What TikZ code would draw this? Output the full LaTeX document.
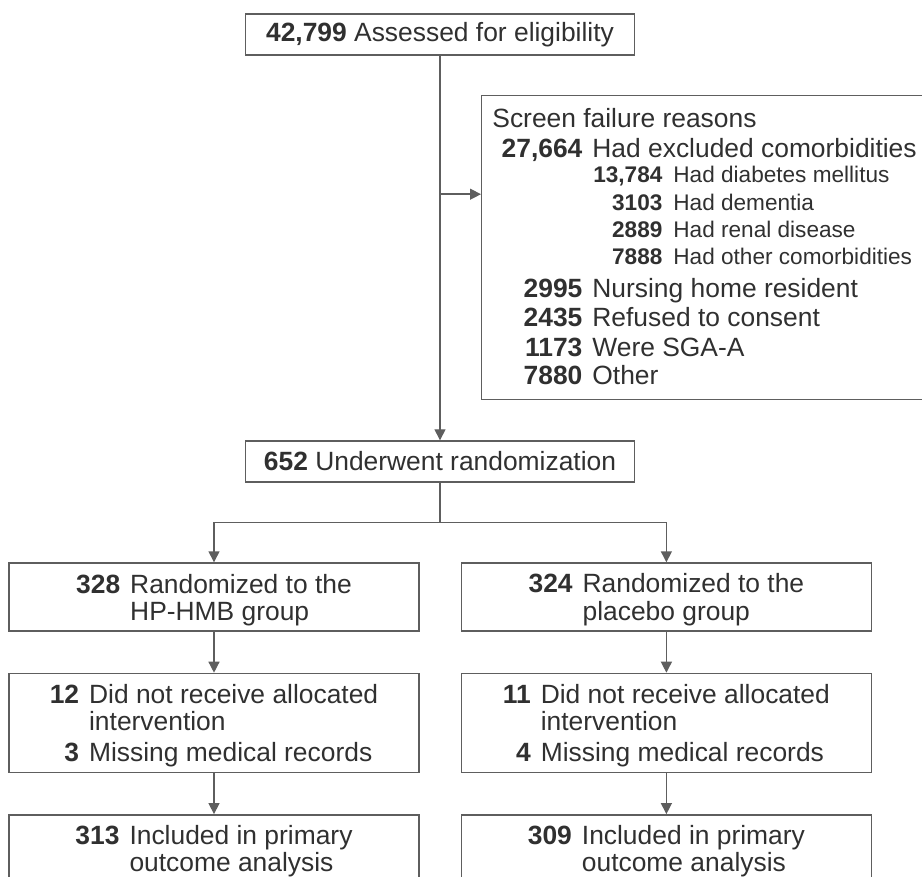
\documentclass[tikz,border=0pt]{standalone}
\usepackage{fontspec}
\setmainfont{Liberation Sans}
\usetikzlibrary{arrows.meta,positioning,calc}
\definecolor{linegray}{HTML}{5E5E5E}
\definecolor{textgray}{HTML}{303030}
\newcommand{\mainrow}[2]{\makebox[50.5pt][r]{\textbf{#1}}\hspace{5pt}#2}
\newcommand{\subrow}[2]{\makebox[90.5pt][r]{\textbf{#1}}\hspace{5.5pt}#2}
\newcommand{\armtab}[1]{\raisebox{-2pt}[\height][\depth]{\begin{tabular}{@{}r@{\hspace{5pt}}l@{}}#1\end{tabular}}}

\begin{document}
\begin{tikzpicture}[x=0.5pt,y=0.5pt,every node/.style={text=textgray,font=\fontsize{13.2pt}{13.5pt}\selectfont}]
\tikzstyle{stage}=[draw=linegray,line width=0.7pt,inner sep=0pt,minimum width=194.5pt,minimum height=20.5pt]
\tikzstyle{arm}=[draw=linegray,line width=0.7pt,inner sep=0pt,minimum width=205pt]
\tikzstyle{row}=[anchor=base west,inner sep=0pt]
\tikzstyle{small}=[font=\fontsize{11.3pt}{13pt}\selectfont]
\tikzstyle{link}=[draw=linegray,line width=0.7pt]
\tikzstyle{flow}=[link,-{Triangle[length=5.5pt,width=5.5pt]}]
\useasboundingbox (0,0) rectangle (922,-877);
% screening
\node (elig) [stage] at (440,-34.5) {\textbf{42,799} Assessed for eligibility};
\node (reasons) [draw=linegray,line width=0.7pt,anchor=north west,minimum width=230pt,minimum height=152pt] at (481,-95) {};
\node (head) [row] at ($(reasons.north west)+(0,-32.5)$) {\hspace*{5.5pt}Screen failure reasons};
\node (r1) [row] at ($(reasons.north west)+(0,-62.5)$) {\mainrow{27,664}{Had excluded comorbidities}};
\node (r2) [row,small] at ($(reasons.north west)+(0,-88)$) {\subrow{13,784}{Had diabetes mellitus}};
\node (r3) [row,small] at ($(reasons.north west)+(0,-116)$) {\subrow{3103}{Had dementia}};
\node (r4) [row,small] at ($(reasons.north west)+(0,-143)$) {\subrow{2889}{Had renal disease}};
\node (r5) [row,small] at ($(reasons.north west)+(0,-170)$) {\subrow{7888}{Had other comorbidities}};
\node (r6) [row] at ($(reasons.north west)+(0,-202.5)$) {\mainrow{2995}{Nursing home resident}};
\node (r7) [row] at ($(reasons.north west)+(0,-231.5)$) {\mainrow{2435}{Refused to consent}};
\node (r8) [row] at ($(reasons.north west)+(0,-261.5)$) {\mainrow{1173}{Were SGA-A}};
\node (r9) [row] at ($(reasons.north west)+(0,-289.5)$) {\mainrow{7880}{Other}};
\node (rand) [stage] at (440,-461.5) {\textbf{652} Underwent randomization};
%
\coordinate (split) at ($(elig.south)+(0,-138.5)$);
\draw [flow] (elig.south) -- (rand.north);
\draw [flow] (split) -- (split -| reasons.west);
% arms
\node (hp1) [arm,minimum height=34pt] at (214,-597) {\armtab{\textbf{328} & Randomized to the\\ & HP-HMB group}};
\node (pl1) [arm,minimum height=34pt,right=20.5pt of hp1] {\armtab{\textbf{324} & Randomized to the\\ & placebo group}};
\node (hp2) [arm,minimum height=49.5pt,below=20.5pt of hp1] {\armtab{\textbf{12} & Did not receive allocated\\ & intervention\\[1.5pt] \textbf{3} & Missing medical records}};
\node (pl2) [arm,minimum height=49.5pt,below=20.5pt of pl1] {\armtab{\textbf{11} & Did not receive allocated\\ & intervention\\[1.5pt] \textbf{4} & Missing medical records}};
\node (hp3) [arm,minimum height=34pt,below=20.5pt of hp2] {\armtab{\textbf{313} & Included in primary\\ & outcome analysis}};
\node (pl3) [arm,minimum height=34pt,below=20.5pt of pl2] {\armtab{\textbf{309} & Included in primary\\ & outcome analysis}};
\coordinate (fork) at ($(rand.south)+(0,-40)$);
\draw [link] (rand.south) -- (fork);
\draw [flow] (fork) -| (hp1.north);
\draw [flow] (fork) -| (pl1.north);
\draw [flow] (hp1) -- (hp2);
\draw [flow] (hp2) -- (hp3);
\draw [flow] (pl1) -- (pl2);
\draw [flow] (pl2) -- (pl3);
\end{tikzpicture}
\end{document}
